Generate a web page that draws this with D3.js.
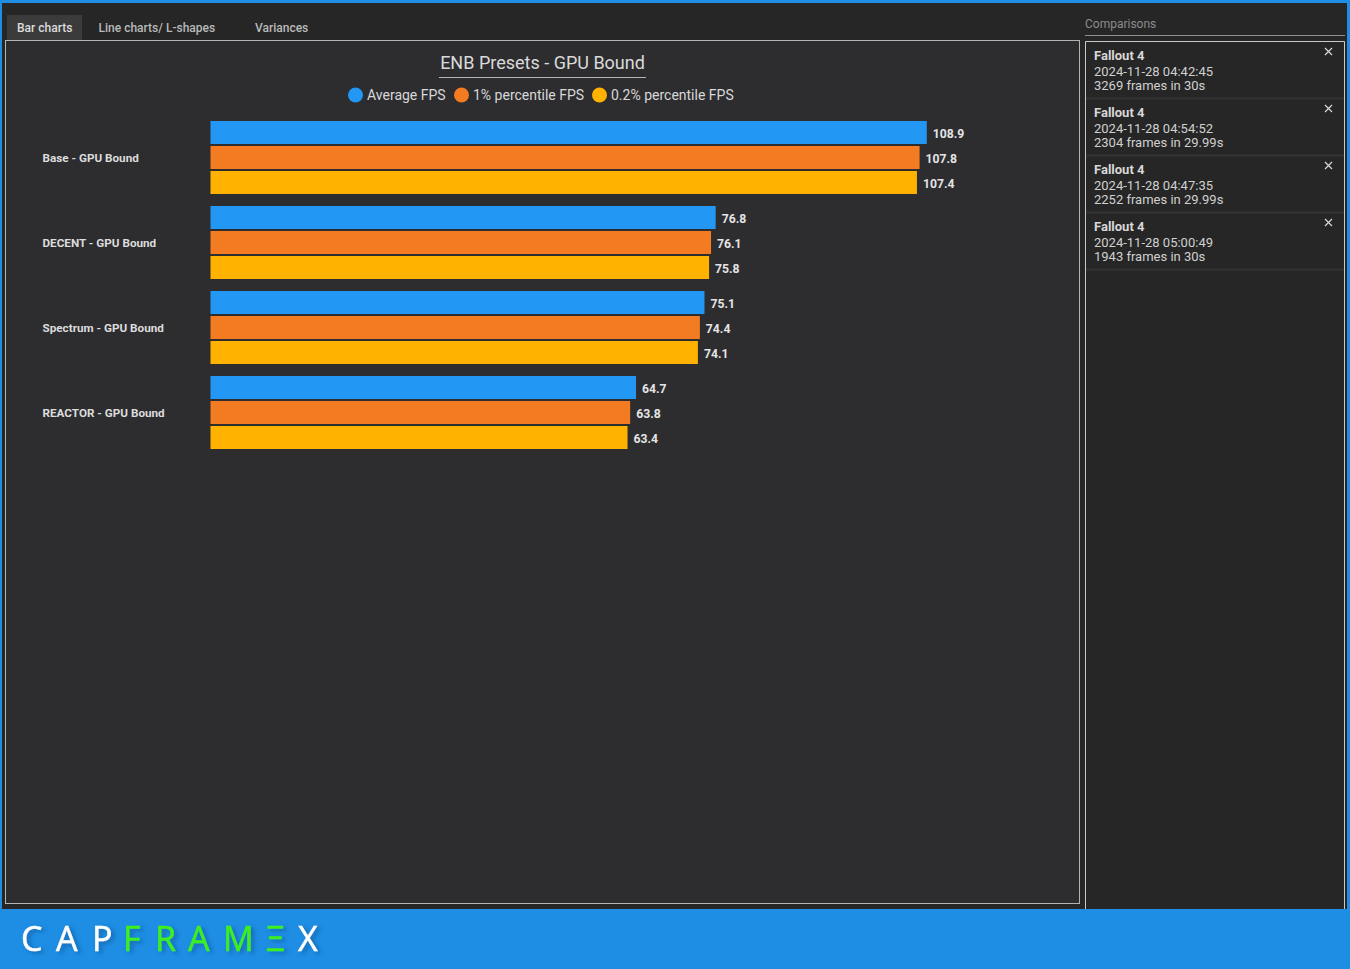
<!DOCTYPE html>
<html>
<head>
<meta charset="utf-8">
<title>CapFrameX</title>
<script src="https://cdn.jsdelivr.net/npm/d3@7/dist/d3.min.js"></script>
<style>
  html, body { margin: 0; padding: 0; background: #262626; overflow: hidden; }
  svg { display: block; font-family: Roboto, sans-serif; }
</style>
</head>
<body>
<svg id="app" width="1350" height="969"></svg>
<script>
// values
var categories = ['Base - GPU Bound', 'DECENT - GPU Bound', 'Spectrum - GPU Bound', 'REACTOR - GPU Bound'];
var seriesNames = ['Average FPS', '1% percentile FPS', '0.2% percentile FPS'];
var seriesColors = ['#2297f3', '#f37b21', '#ffb300'];
var averageFps = [108.9, 76.8, 75.1, 64.7];
var p1Fps = [107.8, 76.1, 74.4, 63.8];
var p02Fps = [107.4, 75.8, 74.1, 63.4];
var seriesValues = [averageFps, p1Fps, p02Fps];

var tabs = ['Bar charts', 'Line charts/ L-shapes', 'Variances'];
var tabX = [17, 98.5, 255];

var compGame = ['Fallout 4', 'Fallout 4', 'Fallout 4', 'Fallout 4'];
var compDate = ['2024-11-28 04:42:45', '2024-11-28 04:54:52', '2024-11-28 04:47:35', '2024-11-28 05:00:49'];
var compFrames = ['3269 frames in 30s', '2304 frames in 29.99s', '2252 frames in 29.99s', '1943 frames in 30s'];

var logoLetters = ['C', 'A', 'P', 'F', 'R', 'A', 'M', 'Ξ', 'X'];
var logoX = [21, 56, 92, 123, 155, 188, 223, 266, 298];
var logoColors = ['#fff', '#fff', '#fff', '#3cf01e', '#3cf01e', '#3cf01e', '#3cf01e', '#3cf01e', '#fff'];

var svg = d3.select('#app');

// window frame
svg.append('rect').attr('width', 1350).attr('height', 969).attr('fill', '#1e8de4');
svg.append('rect').attr('x', 2).attr('y', 3).attr('width', 1345).attr('height', 906).attr('fill', '#262626');

// tabs
svg.append('rect').attr('x', 7).attr('y', 15).attr('width', 75).attr('height', 25).attr('fill', '#3b3b3b');
svg.selectAll('.tab').data(tabs).enter().append('text')
    .attr('class', 'tab')
    .attr('x', function(d, i) { return tabX[i]; })
    .attr('y', 32)
    .attr('font-size', 12)
    .attr('font-weight', 500)
    .attr('fill', function(d, i) { return i === 0 ? '#dcdcdc' : '#b9b9b9'; })
    .text(function(d) { return d; });

// chart panel
svg.append('rect').attr('x', 5.5).attr('y', 40.5).attr('width', 1074).attr('height', 863)
    .attr('fill', '#2d2d30').attr('stroke', '#b4b4b4');

// title
svg.append('text').attr('x', 542.5).attr('y', 69).attr('text-anchor', 'middle')
    .attr('font-size', 18).attr('fill', '#dadada').text('ENB Presets - GPU Bound');
svg.append('line').attr('x1', 439).attr('x2', 646).attr('y1', 77.5).attr('y2', 77.5).attr('stroke', '#b4b4b4');

// legend
var legendX = [348, 454, 592];
var legend = svg.selectAll('.legend').data(seriesNames).enter().append('g')
    .attr('class', 'legend')
    .attr('transform', function(d, i) { return 'translate(' + legendX[i] + ',95)'; });
legend.append('circle').attr('cx', 7.5).attr('r', 7.5).attr('fill', function(d, i) { return seriesColors[i]; });
legend.append('text').attr('x', 19).attr('y', 5).attr('font-size', 14).attr('fill', '#d8d8d8')
    .text(function(d) { return d; });

// scales
var x = d3.scaleLinear().domain([0, 108.9]).range([210.5, 926.8]);
var y = d3.scaleBand().domain(categories).range([115.5, 455.5]);
var inner = d3.scaleBand().domain(seriesNames).range([5.5, 78.5]).paddingInner(2 / 25).paddingOuter(0);

// category labels
var yAxis = svg.append('g')
    .attr('transform', 'translate(210,0)')
    .call(d3.axisLeft(y).tickSize(0).tickPadding(0));
yAxis.select('.domain').remove();
yAxis.selectAll('text')
    .attr('x', -167.5)
    .attr('text-anchor', 'start')
    .attr('font-family', 'Roboto, sans-serif')
    .attr('font-size', 11.7)
    .attr('font-weight', 700)
    .attr('fill', '#dcdcdc');

// bars and data labels
var groups = svg.selectAll('.group').data(categories).enter().append('g')
    .attr('class', 'group')
    .attr('transform', function(d) { return 'translate(0,' + y(d) + ')'; });

seriesNames.forEach(function(name, s) {
    groups.append('rect')
        .attr('x', x(0))
        .attr('y', inner(name))
        .attr('width', function(d, i) { return x(seriesValues[s][i]) - x(0); })
        .attr('height', inner.bandwidth())
        .attr('fill', seriesColors[s]);
    groups.append('text')
        .attr('x', function(d, i) { return x(seriesValues[s][i]) + 6; })
        .attr('y', inner(name) + inner.bandwidth() / 2 + 5)
        .attr('font-size', 12.2)
        .attr('font-weight', 700)
        .attr('fill', '#e4e4e4')
        .text(function(d, i) { return seriesValues[s][i].toFixed(1); });
});

// comparisons side panel
svg.append('text').attr('x', 1085).attr('y', 28).attr('font-size', 12).attr('fill', '#8c8c8c').text('Comparisons');
svg.append('line').attr('x1', 1085).attr('x2', 1345).attr('y1', 35.5).attr('y2', 35.5).attr('stroke', '#8f8f8f');
svg.append('path').attr('d', 'M1085.5,909V41.5H1344.5V909').attr('fill', 'none').attr('stroke', '#c8c8c8');

var comp = svg.selectAll('.comp').data(compDate).enter().append('g')
    .attr('class', 'comp')
    .attr('transform', function(d, i) { return 'translate(1086,' + (42 + i * 57) + ')'; });
comp.append('text').attr('x', 8).attr('y', 18).attr('font-size', 13).attr('font-weight', 700).attr('fill', '#d8d8d8')
    .text(function(d, i) { return compGame[i]; });
comp.append('text').attr('x', 8).attr('y', 34).attr('font-size', 13).attr('fill', '#d0d0d0')
    .text(function(d) { return d; });
comp.append('text').attr('x', 8).attr('y', 48).attr('font-size', 13).attr('fill', '#d0d0d0')
    .text(function(d, i) { return compFrames[i]; });
comp.append('line').attr('x1', 0).attr('x2', 258).attr('y1', 56.5).attr('y2', 56.5)
    .attr('stroke', '#333333').attr('stroke-width', 2);
comp.append('path').attr('d', 'M239,6L246,13M246,6L239,13').attr('stroke', '#d8d8d8').attr('stroke-width', 1.2).attr('fill', 'none');

// logo
var defs = svg.append('defs');
defs.append('filter').attr('id', 'logoShadow').attr('x', '-30%').attr('y', '-30%').attr('width', '170%').attr('height', '170%')
    .append('feDropShadow').attr('dx', 3).attr('dy', 2).attr('stdDeviation', 2)
    .attr('flood-color', '#0b4f8a').attr('flood-opacity', 0.6);

svg.selectAll('.logo').data(logoLetters).enter().append('text')
    .attr('class', 'logo')
    .attr('x', function(d, i) { return logoX[i]; })
    .attr('y', 951)
    .attr('font-family', '"Open Sans", sans-serif')
    .attr('font-size', 34)
    .attr('fill', function(d, i) { return logoColors[i]; })
    .attr('stroke', function(d, i) { return logoColors[i]; })
    .attr('stroke-width', 0.5)
    .attr('filter', 'url(#logoShadow)')
    .text(function(d) { return d; });
</script>
</body>
</html>
